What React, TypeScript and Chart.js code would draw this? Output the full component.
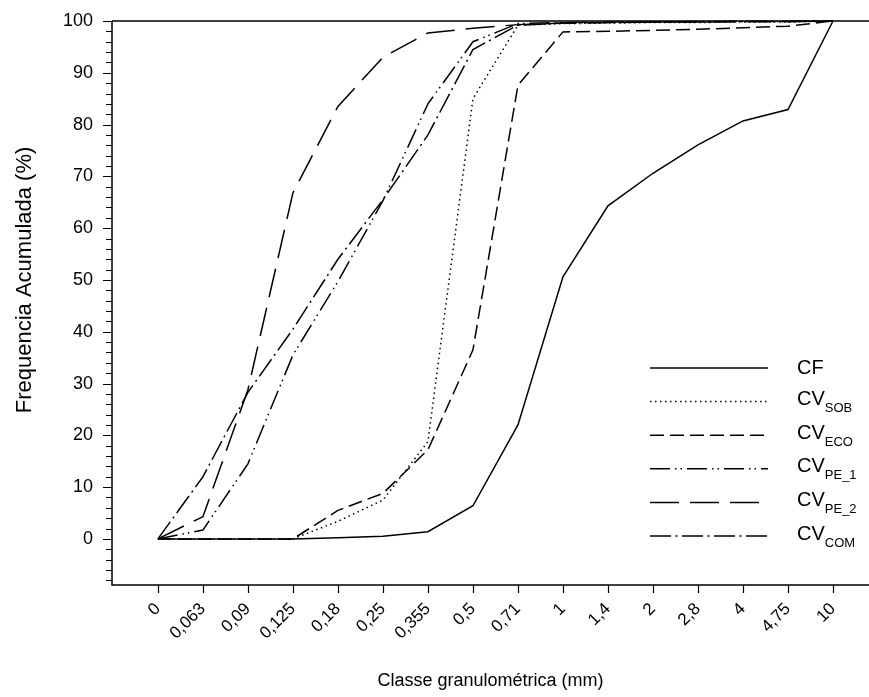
import React, { useEffect, useRef } from 'react';
import { Chart, registerables } from 'chart.js';

Chart.register(...registerables);

const sizeLabels = ['0', '0,063', '0,09', '0,125', '0,18', '0,25', '0,355', '0,5', '0,71', '1', '1,4', '2', '2,8', '4', '4,75', '10'];
const cf = [0, 0, 0, 0, 0.2, 0.5, 1.4, 6.4, 22.0, 50.6, 64.3, 70.6, 76.1, 80.7, 82.9, 100];
const cvSob = [0, 0, 0, 0, 3.4, 7.5, 18.8, 85.0, 99.2, 99.5, 99.6, 99.7, 99.7, 99.8, 99.8, 100];
const cvEco = [0, 0, 0, 0, 5.5, 8.8, 17.2, 36.5, 87.6, 97.9, 98.0, 98.2, 98.4, 98.7, 99.0, 100];
const cvPe1 = [0, 1.7, 14.5, 35.5, 49.7, 65.3, 84.0, 96.0, 99.5, 99.7, 99.8, 99.8, 99.9, 99.9, 99.9, 100];
const cvPe2 = [0, 4.3, 28.8, 66.8, 83.5, 93.0, 97.7, 98.6, 99.3, 99.6, 99.7, 99.8, 99.8, 99.9, 99.9, 100];
const cvCom = [0, 12.0, 28.3, 40.5, 54.0, 65.5, 78.0, 94.5, 99.2, 99.6, 99.7, 99.8, 99.8, 99.9, 99.9, 100];
const yTickValues = [0, 10, 20, 30, 40, 50, 60, 70, 80, 90, 100];

const FONT = "'Liberation Sans', Arial, Helvetica, sans-serif";

type Series = { name: string; sub: string; data: number[]; dash: number[] };

const zeroPad = (scale: any) => {
  scale.paddingTop = 0;
  scale.paddingBottom = 0;
  scale.paddingLeft = 0;
  scale.paddingRight = 0;
};

export default function App() {
  const ref = useRef<HTMLCanvasElement | null>(null);

  useEffect(() => {
    const canvas = ref.current;
    if (!canvas) return;

    const series: Series[] = [
      { name: 'CF', sub: '', data: cf, dash: [] },
      { name: 'CV', sub: 'SOB', data: cvSob, dash: [1.5, 3.5] },
      { name: 'CV', sub: 'ECO', data: cvEco, dash: [14, 6] },
      { name: 'CV', sub: 'PE_1', data: cvPe1, dash: [20, 5, 1.5, 4, 1.5, 5] },
      { name: 'CV', sub: 'PE_2', data: cvPe2, dash: [29, 11] },
      { name: 'CV', sub: 'COM', data: cvCom, dash: [21, 4.5, 2, 4.5] },
    ];

    const customPlugin = {
      id: 'customAxes',
      afterDatasetsDraw(chart: any) {
        const { ctx, chartArea, scales } = chart;
        const { left, top, bottom } = chartArea;
        const W = chart.width;
        const x = scales.x;
        const y = scales.y;
        ctx.save();
        ctx.strokeStyle = '#000';
        ctx.fillStyle = '#000';
        ctx.setLineDash([]);
        ctx.lineWidth = 1.5;
        ctx.beginPath();
        ctx.moveTo(left, top);
        ctx.lineTo(W, top);
        ctx.moveTo(left, top);
        ctx.lineTo(left, bottom);
        ctx.lineTo(W, bottom);
        ctx.stroke();
        ctx.lineWidth = 1.2;
        ctx.beginPath();
        for (let v = -8; v <= 100; v += 2) {
          const py = Math.round(y.getPixelForValue(v)) + 0.5;
          const len = v % 10 === 0 ? 9 : 6;
          ctx.moveTo(left, py);
          ctx.lineTo(left - len, py);
        }
        for (let i = 0; i < sizeLabels.length; i++) {
          const px = Math.round(x.getPixelForValue(i)) + 0.5;
          ctx.moveTo(px, bottom);
          ctx.lineTo(px, bottom + 8);
        }
        ctx.stroke();

        ctx.font = `18px ${FONT}`;
        ctx.textAlign = 'center';
        ctx.textBaseline = 'middle';
        ctx.fillText('Classe granulométrica (mm)', (left + W) / 2, 681);
        ctx.save();
        const cy = (y.getPixelForValue(0) + y.getPixelForValue(100)) / 2;
        ctx.translate(25, cy);
        ctx.rotate(-Math.PI / 2);
        ctx.font = `22px ${FONT}`;
        ctx.fillText('Frequencia Acumulada (%)', 0, 0);
        ctx.restore();

        const lineX0 = 650;
        const lineX1 = 768;
        const textX = 797;
        series.forEach((s, i) => {
          const ry = 368 + i * 33.6;
          ctx.lineWidth = 1.5;
          ctx.setLineDash(s.dash);
          ctx.beginPath();
          ctx.moveTo(lineX0, ry);
          ctx.lineTo(lineX1, ry);
          ctx.stroke();
          ctx.setLineDash([]);
          ctx.textAlign = 'left';
          ctx.textBaseline = 'middle';
          ctx.font = `20px ${FONT}`;
          const ty = i === 0 ? ry : ry - 2;
          ctx.fillText(s.name, textX, ty);
          if (s.sub) {
            const w = ctx.measureText(s.name).width;
            ctx.font = `13px ${FONT}`;
            ctx.fillText(s.sub, textX + w, ty + 9);
          }
        });
        ctx.restore();
      },
    };

    const chart = new Chart(canvas, {
      type: 'line',
      data: {
        datasets: series.map((s) => ({
          label: s.name + s.sub,
          data: s.data.map((v, i) => ({ x: i, y: v })),
          borderColor: '#000',
          backgroundColor: '#000',
          borderWidth: 1.5,
          borderDash: s.dash,
          borderCapStyle: 'butt' as const,
          pointRadius: 0,
          tension: 0,
          fill: false,
          clip: 6,
        })),
      },
      options: {
        responsive: false,
        animation: false,
        devicePixelRatio: 1,
        layout: { padding: { top: 21, right: 0, left: 0, bottom: 0 } },
        plugins: {
          legend: { display: false },
          tooltip: { enabled: false },
          title: { display: false },
        },
        scales: {
          x: {
            type: 'linear',
            min: -1.02,
            max: 15.8,
            grid: { display: false, drawTicks: false },
            border: { display: false },
            afterFit: (scale: any) => {
              scale.height = 112;
              zeroPad(scale);
            },
            afterBuildTicks: (scale: any) => {
              scale.ticks = sizeLabels.map((_, i) => ({ value: i }));
            },
            ticks: {
              autoSkip: false,
              minRotation: 45,
              maxRotation: 45,
              padding: 14,
              color: '#000',
              font: { family: FONT, size: 17 },
              callback: (v: any) => sizeLabels[Number(v)] ?? '',
            },
          },
          y: {
            type: 'linear',
            min: -8.9,
            max: 100,
            grid: { display: false, drawTicks: false },
            border: { display: false },
            afterFit: (scale: any) => {
              scale.width = 112;
              zeroPad(scale);
            },
            afterBuildTicks: (scale: any) => {
              scale.ticks = yTickValues.map((v) => ({ value: v }));
            },
            ticks: {
              padding: 19,
              color: '#000',
              font: { family: FONT, size: 18 },
              callback: (v: any) => String(v),
            },
          },
        },
      },
      plugins: [customPlugin],
    });

    return () => chart.destroy();
  }, []);

  return (
    <div style={{ position: 'absolute', left: 0, top: 0, width: 869, height: 697, background: '#fff' }}>
      <canvas ref={ref} width={869} height={697} style={{ display: 'block' }} />
    </div>
  );
}
